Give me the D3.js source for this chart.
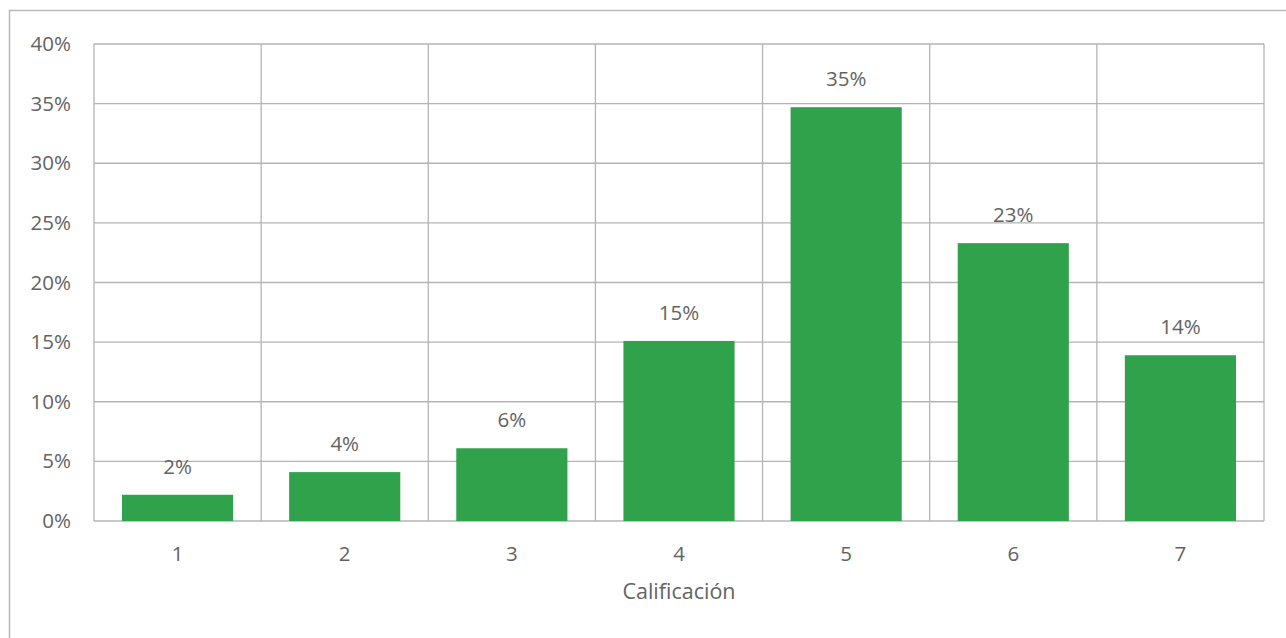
<!DOCTYPE html>
<html>
<head>
<meta charset="utf-8">
<script src="https://cdn.jsdelivr.net/npm/d3@7"></script>
<style>
  html, body { margin: 0; padding: 0; background: #fff; }
  svg { display: block; font-family: "Open Sans", "Liberation Sans", sans-serif; }
</style>
</head>
<body>
<svg id="chart" width="1286" height="638"></svg>
<script>
// Distribution of ratings (share of responses per score)
const categories = ["1", "2", "3", "4", "5", "6", "7"];
const shares = [0.022, 0.041, 0.061, 0.151, 0.347, 0.233, 0.139];
const yTicks = [0, 0.05, 0.10, 0.15, 0.20, 0.25, 0.30, 0.35, 0.40];
const xTitle = "Calificación";

const svg = d3.select("#chart");
const W = 1286, H = 638;
const plot = { left: 94, top: 44, right: 1264, bottom: 521 };

const textColor = "#636363";
const gridColor = "#b4b4b4";
const barColor = "#31a24c";
const fontSize = 20.5;

// Outer frame of the chart area
svg.append("path")
  .attr("d", `M9.5,${H} V10.5 H${W}`)
  .attr("fill", "none")
  .attr("stroke", "#b9b9b9")
  .attr("stroke-width", 1.5);

const x = d3.scaleBand()
  .domain(categories)
  .range([plot.left, plot.right])
  .paddingInner(0.335)
  .paddingOuter(0.1675);

const y = d3.scaleLinear()
  .domain([0, 0.40])
  .range([plot.bottom, plot.top]);

const pct = d3.format(".0%");

// Horizontal gridlines
svg.append("g")
  .selectAll("line")
  .data(yTicks)
  .join("line")
  .attr("x1", plot.left).attr("x2", plot.right)
  .attr("y1", d => y(d)).attr("y2", d => y(d))
  .attr("stroke", gridColor)
  .attr("stroke-width", 1.3);

// Vertical gridlines at category boundaries
const step = (plot.right - plot.left) / categories.length;
svg.append("g")
  .selectAll("line")
  .data(d3.range(categories.length + 1))
  .join("line")
  .attr("x1", i => plot.left + i * step).attr("x2", i => plot.left + i * step)
  .attr("y1", plot.top).attr("y2", plot.bottom)
  .attr("stroke", gridColor)
  .attr("stroke-width", 1.3);

// Y axis tick labels
const yAxis = d3.axisLeft(y).tickValues(yTicks).tickFormat(pct).tickSize(0).tickPadding(23);
const gy = svg.append("g").attr("transform", `translate(${plot.left},0)`).call(yAxis);
gy.select(".domain").remove();
gy.selectAll("text").attr("fill", textColor).style("font-size", fontSize + "px")
  .style("font-family", "'Open Sans', sans-serif");

// X axis tick labels
const xAxis = d3.axisBottom(x).tickSize(0).tickPadding(25);
const gx = svg.append("g").attr("transform", `translate(0,${plot.bottom})`).call(xAxis);
gx.select(".domain").remove();
gx.selectAll("text").attr("fill", textColor).style("font-size", fontSize + "px")
  .style("font-family", "'Open Sans', sans-serif");

// Bars
svg.append("g")
  .selectAll("rect")
  .data(shares)
  .join("rect")
  .attr("x", (d, i) => x(categories[i]))
  .attr("y", d => y(d))
  .attr("width", x.bandwidth())
  .attr("height", d => y(0) - y(d))
  .attr("fill", barColor);

// Value labels above bars
svg.append("g")
  .selectAll("text")
  .data(shares)
  .join("text")
  .attr("x", (d, i) => x(categories[i]) + x.bandwidth() / 2)
  .attr("y", d => y(d) - 21)
  .attr("text-anchor", "middle")
  .attr("fill", textColor)
  .style("font-size", fontSize + "px")
  .text(d => pct(d));

// X axis title
svg.append("text")
  .attr("x", (plot.left + plot.right) / 2)
  .attr("y", 599)
  .attr("text-anchor", "middle")
  .attr("fill", textColor)
  .style("font-size", "21.5px")
  .text(xTitle);
</script>
</body>
</html>
